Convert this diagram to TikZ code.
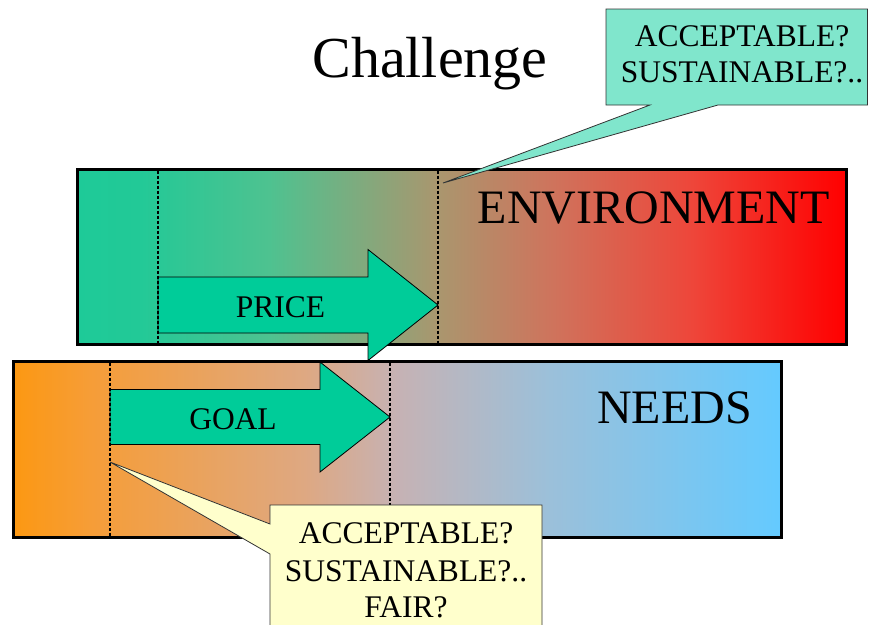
\documentclass[tikz,border=0pt]{standalone}
\usepackage{fontspec}
\setmainfont{Liberation Serif}

% colour stops of the two horizontal bands
\definecolor{envA}{RGB}{30,202,152}
\definecolor{envB}{RGB}{34,201,151}
\definecolor{envC}{RGB}{78,194,144}
\definecolor{envD}{RGB}{170,150,110}
\definecolor{envE}{RGB}{207,115,92}
\definecolor{envF}{RGB}{238,70,58}
\definecolor{envG}{RGB}{255,0,0}
\definecolor{needA}{RGB}{252,152,18}
\definecolor{needB}{RGB}{246,157,55}
\definecolor{needC}{RGB}{222,168,130}
\definecolor{needD}{RGB}{198,178,180}
\definecolor{needE}{RGB}{155,192,218}
\definecolor{needF}{RGB}{100,202,255}
\definecolor{arrowfill}{RGB}{0,204,153}
\definecolor{calloutgreen}{RGB}{128,230,204}
\definecolor{calloutyellow}{RGB}{255,255,204}

% the path box maps onto 25bp..75bp of a shading
\pgfdeclarehorizontalshading{envgrad}{100bp}{color(0bp)=(envA); color(25bp)=(envA);
  color(29bp)=(envB); color(37.5bp)=(envC); color(48.5bp)=(envD);
  color(56bp)=(envE); color(65bp)=(envF); color(75bp)=(envG); color(100bp)=(envG)}
\pgfdeclarehorizontalshading{needgrad}{100bp}{color(0bp)=(needA); color(25bp)=(needA);
  color(30bp)=(needB); color(44bp)=(needC); color(50bp)=(needD);
  color(60bp)=(needE); color(75bp)=(needF); color(100bp)=(needF)}

\tikzset{
  band/.style={draw=black, line width=3pt},
  bigarrow/.style={fill=arrowfill, draw=black, line width=0.8pt, line join=miter},
  guide/.style={draw=black, line width=2.6pt, dash pattern=on 3pt off 2pt},
  callout/.style={draw=black!80, line width=0.8pt, line join=miter},
  bandlabel/.style={inner sep=0pt, font=\fontsize{48}{56}\selectfont},
  arrowlabel/.style={inner sep=0pt, font=\fontsize{31.5}{36}\selectfont},
  notelabel/.style={inner sep=0pt, align=center, font=\fontsize{31.5}{35.5}\selectfont},
}

\begin{document}
\begin{tikzpicture}[x=1pt, y=-1pt]
\useasboundingbox (0,0) rectangle (869,624);

% title
\node[inner sep=0pt, anchor=base, font=\fontsize{58}{66}\selectfont] (title) at (430,77) {Challenge};

% environment band
\path[shading=envgrad] (77,169) rectangle (846,344);
\draw[band] (77,169) rectangle (846,344);
\node[bandlabel, anchor=base east] (envlabel) at (830,223) {ENVIRONMENT};

% price arrow
\draw[bigarrow] (158,277) -- (368,277) -- (368,249.5) -- (438,305)
  -- (368,360.5) -- (368,333) -- (158,333) -- cycle;
\node[arrowlabel, anchor=base] (price) at (280.5,317) {PRICE};
\draw[guide] (158,170.5) -- (158,342.5);
\draw[guide] (438,170.5) -- (438,342.5);

% needs band
\path[shading=needgrad] (13,361) rectangle (781,537);
\draw[band] (13,361) rectangle (781,537);
\node[bandlabel, anchor=base east] (needlabel) at (752,423) {NEEDS};

% goal arrow
\draw[bigarrow] (110,389.5) -- (320,389.5) -- (320,362) -- (390,417)
  -- (320,472) -- (320,444.5) -- (110,444.5) -- cycle;
\node[arrowlabel, anchor=base] (goal) at (233,429) {GOAL};
\draw[guide] (110,362.5) -- (110,535.5);
\draw[guide] (390,362.5) -- (390,535.5);

% upper note with its pointer
\draw[callout, fill=calloutgreen] (606,9) -- (867.5,9) -- (867.5,105) -- (718,105)
  -- (443,183) -- (650,105) -- (606,105) -- cycle;
\node[notelabel, anchor=base] (noteA1) at (742,46) {ACCEPTABLE?};
\node[notelabel, anchor=base] (noteA2) at (742,82) {SUSTAINABLE?..};

% lower note with its pointer
\draw[callout, fill=calloutyellow] (270,505) -- (542,505) -- (542,640) -- (270,640)
  -- (270,554) -- (110,462) -- (270,524) -- cycle;
\node[notelabel, anchor=base] (noteB1) at (406,543) {ACCEPTABLE?};
\node[notelabel, anchor=base] (noteB2) at (406,581) {SUSTAINABLE?..};
\node[notelabel, anchor=base] (noteB3) at (406,617) {FAIR?};
\end{tikzpicture}
\end{document}
